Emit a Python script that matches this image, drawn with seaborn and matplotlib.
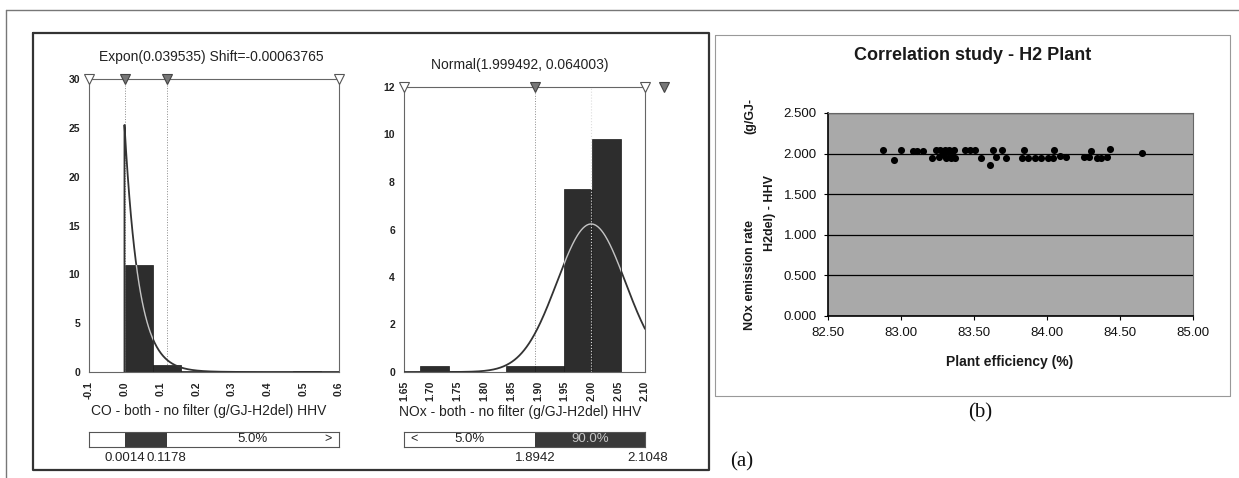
import numpy as np
import matplotlib
matplotlib.use("Agg")
import matplotlib.pyplot as plt
import seaborn as sns
from matplotlib.lines import Line2D
from matplotlib.patches import Rectangle
from matplotlib.transforms import ScaledTranslation

W, H = 1239, 478

# (a) left: CO fitted histogram
co_title = "Expon(0.039535) Shift=-0.00063765"
co_label = "CO - both - no filter (g/GJ-H2del) HHV"
co_edges = [0.0, 0.0785, 0.157, 0.2355, 0.314, 0.3925, 0.471, 0.5495]
co_density = [11.0, 0.7, 0.1, 0.0, 0.0, 0.0, 0.1]
co_beta = 0.039535
co_shift = -0.00063765
co_p5, co_p95 = 0.0014, 0.1178
co_xticks = [-0.1, 0.0, 0.1, 0.2, 0.3, 0.4, 0.5, 0.6]
co_yticks = [0, 5, 10, 15, 20, 25, 30]

# (a) middle: NOx fitted histogram
nox_title = "Normal(1.999492, 0.064003)"
nox_label = "NOx - both - no filter (g/GJ-H2del) HHV"
nox_edges = [1.6805, 1.734, 1.7875, 1.841, 1.8945, 1.948, 2.0015, 2.055]
nox_density = [0.27, 0.0, 0.0, 0.27, 0.27, 7.7, 9.8]
nox_mu, nox_sigma = 1.999492, 0.064003
nox_p5, nox_p95 = 1.8942, 2.1048
nox_xticks = [1.65, 1.70, 1.75, 1.80, 1.85, 1.90, 1.95, 2.00, 2.05, 2.10]
nox_yticks = [0, 2, 4, 6, 8, 10, 12]

# (b) correlation scatter
efficiency = [82.88, 82.95, 83.00, 83.08, 83.11, 83.15, 83.21, 83.24, 83.26, 83.27,
              83.29, 83.30, 83.31, 83.32, 83.33, 83.34, 83.35, 83.36, 83.37, 83.44,
              83.47, 83.51, 83.55, 83.61, 83.63, 83.65, 83.69, 83.72, 83.83, 83.84,
              83.87, 83.92, 83.96, 84.01, 84.04, 84.05, 84.09, 84.13, 84.25, 84.29,
              84.30, 84.34, 84.37, 84.41, 84.43, 84.65]
nox_rate = [2.04, 1.92, 2.04, 2.03, 2.03, 2.03, 1.94, 2.04, 1.96, 2.04,
            2.00, 2.04, 1.95, 2.02, 2.04, 1.95, 2.00, 2.04, 1.95, 2.04,
            2.04, 2.04, 1.95, 1.86, 2.04, 1.96, 2.04, 1.95, 1.95, 2.04,
            1.95, 1.95, 1.95, 1.95, 1.95, 2.04, 1.97, 1.96, 1.96, 1.96,
            2.03, 1.95, 1.95, 1.96, 2.06, 2.01]
eff_ticks = [82.5, 83.0, 83.5, 84.0, 84.5, 85.0]
rate_ticks = [0.0, 0.5, 1.0, 1.5, 2.0, 2.5]

sns.set_theme(style="white")
plt.rcParams['font.family'] = ['Liberation Sans', 'DejaVu Sans']

fig = plt.figure(figsize=(W / 100, H / 100), dpi=100)
fig.patch.set_facecolor('white')


def fx(px):
    return px / W


def fy(py):
    return 1 - py / H


def add_ax(x0, y0, x1, y1):
    return fig.add_axes([fx(x0), fy(y1), (x1 - x0) / W, (y1 - y0) / H])


def fig_line(xs, ys, lw, color):
    fig.add_artist(Line2D([fx(x) for x in xs], [fy(y) for y in ys],
                          transform=fig.transFigure, lw=lw, color=color))


# frames of the scanned page
fig_line([6, 1239], [10, 10], 1.0, '#777777')
fig_line([6, 6], [10, 478], 1.0, '#777777')
fig_line([33, 709, 709, 33, 33], [33, 33, 470, 470, 33], 1.6, '#333333')
fig_line([715, 1230, 1230, 715, 715], [35, 35, 396, 396, 35], 0.8, '#999999')

bar_color = '#2d2d2d'


def hist_panel(ax, edges, dens, cx, cy, xticks, yticks, pcts, fmt):
    centers = [(a + b) / 2 for a, b in zip(edges[:-1], edges[1:])]
    sns.histplot(x=centers, weights=dens, bins=edges, ax=ax, color=bar_color,
                 edgecolor='#1a1a1a', linewidth=0.5, alpha=1, zorder=2)
    sns.lineplot(x=cx, y=cy, ax=ax, color='#333333', lw=1.3, estimator=None,
                 sort=False, zorder=3)
    # curve shows light where it crosses the tallest dark bar under it
    sns.lineplot(x=cx, y=cy, ax=ax, color='#c4c4c4', lw=1.0, estimator=None,
                 sort=False, zorder=4)
    k = int(np.argmax(dens)) if dens[0] < max(dens) else 0
    lo = edges[5] if k else edges[0]
    hi = edges[7] if k else edges[1]
    top = dens[5] if k else dens[0]
    clip = Rectangle((lo, 0), hi - lo, top, transform=ax.transData)
    ax.lines[-1].set_clip_path(clip)
    for p in pcts:
        ax.axvline(p, color='#8a8a8a', lw=0.7, ls=':', zorder=1)
    ax.set_xlim(xticks[0], xticks[-1])
    ax.set_ylim(yticks[0], yticks[-1])
    ax.set_xticks(xticks)
    ax.set_xticklabels([fmt.format(t) for t in xticks], rotation=90)
    ax.set_yticks(yticks)
    ax.set_yticklabels([str(t) for t in yticks])
    ax.tick_params(axis='both', direction='inout', length=9, width=0.6,
                   color='#444444', labelsize=7.5, pad=2, labelcolor='#222222')
    for lab in ax.get_xticklabels() + ax.get_yticklabels():
        lab.set_fontweight('bold')
    for s in ax.spines.values():
        s.set_color('#666666')
        s.set_linewidth(0.8)
    ax.set_xlabel('')
    ax.set_ylabel('')
    ymax = yticks[-1]
    ax.plot([xticks[0], xticks[-1]], [ymax, ymax], 'v', mfc='white', mec='#555555',
            ms=7, mew=0.8, clip_on=False, zorder=5)


# CO panel
ax1 = add_ax(89, 79, 339, 372)
co_x = np.linspace(co_shift, co_xticks[-1], 400)
co_pdf = np.exp(-(co_x - co_shift) / co_beta) / co_beta
co_cx = np.concatenate([[co_shift], co_x])
co_cy = np.concatenate([[0.0], co_pdf])
hist_panel(ax1, co_edges, co_density, co_cx, co_cy, co_xticks, co_yticks,
           [co_p5, co_p95], "{:.1f}")
ax1.plot([co_p5, co_p95], [30, 30], 'v', mfc='#777777', mec='#444444', ms=7,
         mew=0.8, clip_on=False, zorder=6)

# NOx panel
ax2 = add_ax(404, 87, 645, 372)
nox_x = np.linspace(nox_xticks[0], nox_xticks[-1], 400)
nox_pdf = np.exp(-0.5 * ((nox_x - nox_mu) / nox_sigma) ** 2) / (nox_sigma * np.sqrt(2 * np.pi))
hist_panel(ax2, nox_edges, nox_density, nox_x, nox_pdf, nox_xticks, nox_yticks,
           [nox_p5], "{:.2f}")
ax2.axvline(nox_mu, color='#dddddd', lw=0.8, ls=':', zorder=3)
ax2.plot([nox_p5], [12], 'v', mfc='#777777', mec='#444444', ms=7, mew=0.8,
         clip_on=False, zorder=6)
shift = ScaledTranslation(16 / 100, 0, fig.dpi_scale_trans)
ax2.plot([nox_p95], [12], 'v', mfc='#777777', mec='#444444', ms=7, mew=0.8,
         clip_on=False, zorder=6, transform=ax2.transData + shift)

fig.text(fx(211), fy(57), co_title, ha='center', va='center', fontsize=10, color='#222222')
fig.text(fx(520), fy(65), nox_title, ha='center', va='center', fontsize=10, color='#222222')
fig.text(fx(209), fy(411), co_label, ha='center', va='center', fontsize=10, color='#222222')
fig.text(fx(520), fy(412), nox_label, ha='center', va='center', fontsize=10, color='#222222')


def range_bar(ax, xlim, p5, p95, left_txt, mid_txt, right_txt, labels):
    ax.set_xlim(xlim)
    ax.set_ylim(0, 1)
    ax.barh(0.5, p95 - p5, left=p5, height=1, color='#3a3a3a', edgecolor='none')
    ax.set_xticks([])
    ax.set_yticks([])
    for s in ax.spines.values():
        s.set_color('#555555')
        s.set_linewidth(0.8)
    if left_txt:
        ax.text(xlim[0], 0.5, "  <", ha='left', va='center', fontsize=9, color='#222222')
        ax.text((xlim[0] + p5) / 2, 0.5, left_txt, ha='center', va='center',
                fontsize=9.5, color='#222222')
    if mid_txt:
        ax.text((p5 + xlim[1]) / 2, 0.5, mid_txt, ha='center', va='center',
                fontsize=9.5, color='#c8c8c8')
    if right_txt:
        ax.text((p95 + xlim[1]) / 2, 0.5, right_txt, ha='center', va='center',
                fontsize=9.5, color='#222222')
        ax.text(xlim[1], 0.5, ">  ", ha='right', va='center', fontsize=9, color='#222222')
    for v in labels:
        ax.text(v, -0.35, f"{v:.4f}", ha='center', va='top', fontsize=9.5,
                color='#222222', clip_on=False)


ax1r = add_ax(89, 432, 339, 447)
range_bar(ax1r, (co_xticks[0], co_xticks[-1]), co_p5, co_p95, None, None,
          "5.0%", [co_p5, co_p95])
ax2r = add_ax(404, 432, 645, 447)
range_bar(ax2r, (nox_xticks[0], nox_xticks[-1]), nox_p5, nox_p95, "5.0%", "90.0%",
          None, [nox_p5, nox_p95])

# (b) scatter
ax3 = add_ax(828, 113, 1193, 316)
ax3.set_facecolor('#a9a9a9')
ax3.set_axisbelow(True)
ax3.grid(axis='y', color='black', lw=0.9)
ax3.grid(axis='x', visible=False)
sns.scatterplot(x=efficiency, y=nox_rate, ax=ax3, color='black', s=26,
                linewidth=0, zorder=3)
ax3.set_xlim(eff_ticks[0], eff_ticks[-1])
ax3.set_ylim(rate_ticks[0], rate_ticks[-1])
ax3.set_xticks(eff_ticks)
ax3.set_xticklabels([f"{t:.2f}" for t in eff_ticks])
ax3.set_yticks(rate_ticks)
ax3.set_yticklabels([f"{t:.3f}" for t in rate_ticks])
ax3.tick_params(axis='both', direction='out', length=3, width=0.8, color='black',
                labelsize=9.5, pad=5, labelcolor='#111111', bottom=True, left=True)
for side, s in ax3.spines.items():
    s.set_color('black' if side in ('left', 'bottom') else '#666666')
    s.set_linewidth(1.2 if side in ('left', 'bottom') else 0.8)

fig.text(fx(973), fy(56), "Correlation study - H2 Plant", ha='center', va='center',
         fontsize=13, fontweight='bold', color='#1a1a1a')
fig.text(fx(1010), fy(362), "Plant efficiency (%)", ha='center', va='center',
         fontsize=10, fontweight='bold', color='#1a1a1a')
fig.text(fx(750), fy(330), "NOx emission rate", rotation=90, ha='center', va='bottom',
         fontsize=9, fontweight='bold', color='#1a1a1a')
fig.text(fx(750), fy(98), "(g/GJ-", rotation=90, ha='center', va='top',
         fontsize=9, fontweight='bold', color='#1a1a1a')
fig.text(fx(770), fy(213), "H2del) - HHV", rotation=90, ha='center', va='center',
         fontsize=9, fontweight='bold', color='#1a1a1a')

fig.text(fx(742), fy(462), "(a)", ha='center', va='center', fontsize=15,
         family=['Liberation Serif', 'DejaVu Serif'], color='#111111')
fig.text(fx(980), fy(413), "(b)", ha='center', va='center', fontsize=15,
         family=['Liberation Serif', 'DejaVu Serif'], color='#111111')

fig.savefig("out.png", dpi=100, facecolor='white')
